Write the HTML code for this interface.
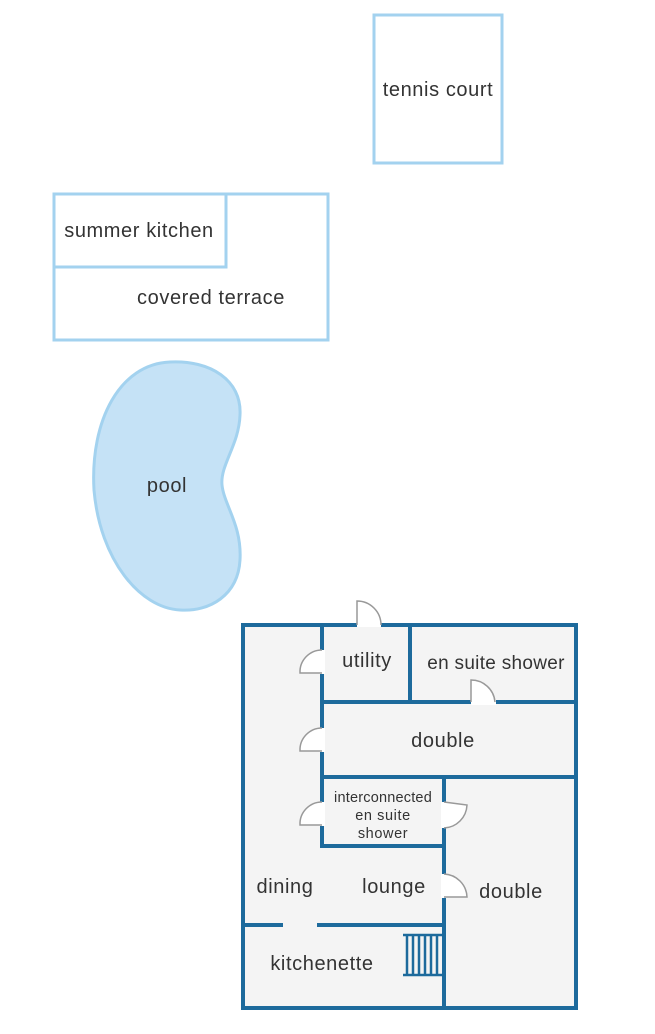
<!DOCTYPE html>
<html><head><meta charset="utf-8"><style>
html,body{margin:0;padding:0;background:#fff;}
svg{display:block;}
text{font-family:"Liberation Sans",sans-serif;fill:#333;letter-spacing:0.6px;}
</style></head><body>
<svg width="655" height="1034" viewBox="0 0 655 1034" xmlns="http://www.w3.org/2000/svg">
<g fill="none" stroke="#a3d2ef" stroke-width="3">
<rect x="374" y="15" width="128" height="148"/>
<rect x="54" y="194" width="274" height="146"/>
<rect x="54" y="194" width="172" height="73"/>
</g>
<text x="438" y="96" font-size="20" text-anchor="middle">tennis court</text>
<text x="139" y="237" font-size="20" text-anchor="middle">summer kitchen</text>
<text x="211" y="304" font-size="20" text-anchor="middle">covered terrace</text>
<path d="M170,362 C210,360 242,380 240,415 C239,445 220,465 222,485 C224,505 242,525 240,560 C238,595 210,612 180,610 C140,608 100,560 94,490 C90,420 120,364 170,362 Z" fill="#c5e2f6" stroke="#a3d2ef" stroke-width="3"/>
<text x="167" y="492" font-size="20" text-anchor="middle">pool</text>
<rect x="243" y="625" width="333" height="383" fill="#f4f4f4"/>
<g fill="none" stroke="#1d6a9c" stroke-width="4">
<rect x="243" y="625" width="333" height="383"/>
<line x1="322" y1="625" x2="322" y2="848"/>
<line x1="410" y1="625" x2="410" y2="702"/>
<line x1="322" y1="702" x2="576" y2="702"/>
<line x1="322" y1="777" x2="576" y2="777"/>
<line x1="444" y1="777" x2="444" y2="1008"/>
<line x1="322" y1="846" x2="444" y2="846"/>
<line x1="243" y1="925" x2="283" y2="925"/>
<line x1="317" y1="925" x2="444" y2="925"/>
</g>
<g fill="#fff" stroke="#999" stroke-width="1.5">
<rect x="357" y="620" width="24" height="7" stroke="none"/>
<path d="M357,625 L357,601 A24,24 0 0 1 381,625"/>
<rect x="319" y="650" width="6" height="24" stroke="none"/>
<path d="M322,650 A22,22 0 0 0 300,673 L322,673"/>
<rect x="471" y="699" width="25" height="6" stroke="none"/>
<path d="M471,702 L471,680 A24,24 0 0 1 495,702"/>
<rect x="319" y="728" width="6" height="24" stroke="none"/>
<path d="M322,728 A22,22 0 0 0 300,751 L322,751"/>
<rect x="319" y="802" width="6" height="24" stroke="none"/>
<path d="M322,802 A22,22 0 0 0 300,825 L322,825"/>
<rect x="441" y="802" width="6" height="26" stroke="none"/>
<path d="M444,802 L467,805 A24,24 0 0 1 444,828"/>
<rect x="441" y="874" width="6" height="24" stroke="none"/>
<path d="M444,874 A24,24 0 0 1 467,897 L444,897"/>
</g>
<g stroke="#1d6a9c" stroke-width="2.5">
<line x1="403" y1="935" x2="442" y2="935"/>
<line x1="403" y1="975" x2="442" y2="975"/>
<line x1="407" y1="935" x2="407" y2="975"/>
<line x1="413" y1="935" x2="413" y2="975"/>
<line x1="419" y1="935" x2="419" y2="975"/>
<line x1="425" y1="935" x2="425" y2="975"/>
<line x1="431" y1="935" x2="431" y2="975"/>
<line x1="437" y1="935" x2="437" y2="975"/>
</g>
<text x="367" y="667" font-size="20" text-anchor="middle">utility</text>
<text x="496" y="669" font-size="19" text-anchor="middle" style="letter-spacing:0.3px">en suite shower</text>
<text x="443" y="747" font-size="20" text-anchor="middle">double</text>
<text x="383" y="802" font-size="14.5" text-anchor="middle" style="letter-spacing:0.2px">interconnected</text>
<text x="383" y="820" font-size="14.5" text-anchor="middle">en suite</text>
<text x="383" y="838" font-size="14.5" text-anchor="middle">shower</text>
<text x="285" y="893" font-size="20" text-anchor="middle">dining</text>
<text x="394" y="893" font-size="20" text-anchor="middle">lounge</text>
<text x="511" y="898" font-size="20" text-anchor="middle">double</text>
<text x="322" y="970" font-size="20" text-anchor="middle">kitchenette</text>
</svg>
</body></html>
